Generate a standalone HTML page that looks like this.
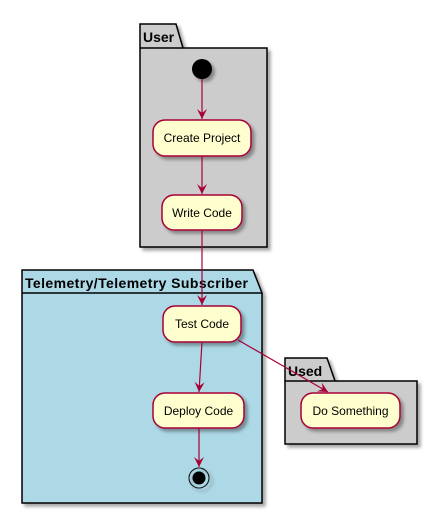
<!DOCTYPE html>
<html><head><style>body{margin:0;background:#fff}</style></head><body>
<svg width="438" height="515" xmlns="http://www.w3.org/2000/svg" font-family="Liberation Sans, sans-serif">
<defs>
<filter id="sh" x="-20%" y="-20%" width="150%" height="150%"><feDropShadow dx="3" dy="3" stdDeviation="1.5" flood-color="#000" flood-opacity="0.35"/></filter>
<marker id="ar" markerWidth="12" markerHeight="12" refX="10" refY="5" orient="auto" markerUnits="userSpaceOnUse"><path d="M0,0 L10,5 L0,10 L4,5 Z" fill="#A80036"/></marker>
</defs>
<g filter="url(#sh)">
<path d="M140,24 L176,24 L183,48 L267,48 L267,247 L140,247 Z" fill="#cccccc" stroke="#000" stroke-width="1.5"/>
</g>
<line x1="140" y1="48" x2="183" y2="48" stroke="#000" stroke-width="1.5"/>
<text x="143" y="42" font-size="14" font-weight="bold">User</text>
<g filter="url(#sh)">
<path d="M22,270 L253,270 L262,293 L262,503 L22,503 Z" fill="#add8e6" stroke="#000" stroke-width="1.5"/>
</g>
<line x1="22" y1="293" x2="262" y2="293" stroke="#000" stroke-width="1.5"/>
<text x="25" y="288" font-size="14" font-weight="bold" textLength="223" lengthAdjust="spacing">Telemetry/Telemetry Subscriber</text>
<g filter="url(#sh)">
<path d="M285,358 L327,358 L335,381 L417,381 L417,444 L285,444 Z" fill="#cccccc" stroke="#000" stroke-width="1.5"/>
</g>
<line x1="285" y1="381" x2="335" y2="381" stroke="#000" stroke-width="1.5"/>
<text x="288" y="376" font-size="14" font-weight="bold">Used</text>
<g filter="url(#sh)">
<circle cx="202" cy="69" r="10" fill="#000"/>
<rect x="153" y="120" width="98" height="36" rx="12" fill="#FEFECE" stroke="#A80036" stroke-width="1.5"/>
<rect x="162" y="195" width="80" height="35" rx="12" fill="#FEFECE" stroke="#A80036" stroke-width="1.5"/>
<rect x="163" y="306" width="78" height="36" rx="12" fill="#FEFECE" stroke="#A80036" stroke-width="1.5"/>
<rect x="153" y="393" width="91" height="35" rx="12" fill="#FEFECE" stroke="#A80036" stroke-width="1.5"/>
<rect x="301" y="393" width="99" height="35" rx="12" fill="#FEFECE" stroke="#A80036" stroke-width="1.5"/>
<circle cx="199" cy="478" r="10" fill="none" stroke="#000" stroke-width="1"/>
</g>
<circle cx="199" cy="478" r="10" fill="#fff" fill-opacity="0" stroke="#222" stroke-width="1"/>
<circle cx="199" cy="478" r="6.5" fill="#000"/>
<g font-size="12" text-anchor="middle" fill="#000">
<text x="202" y="142">Create Project</text>
<text x="202" y="217">Write Code</text>
<text x="202" y="328">Test Code</text>
<text x="198.5" y="415">Deploy Code</text>
<text x="350.5" y="415">Do Something</text>
</g>
<g stroke="#A80036" stroke-width="1.2" fill="none" marker-end="url(#ar)">
<line x1="202" y1="79" x2="202" y2="119"/>
<line x1="202" y1="156" x2="202" y2="194"/>
<line x1="202" y1="230" x2="202" y2="305"/>
<line x1="202" y1="342" x2="199" y2="392"/>
<line x1="238" y1="340" x2="328" y2="392"/>
<line x1="199" y1="428" x2="199" y2="467"/>
</g>
</svg>
</body></html>
